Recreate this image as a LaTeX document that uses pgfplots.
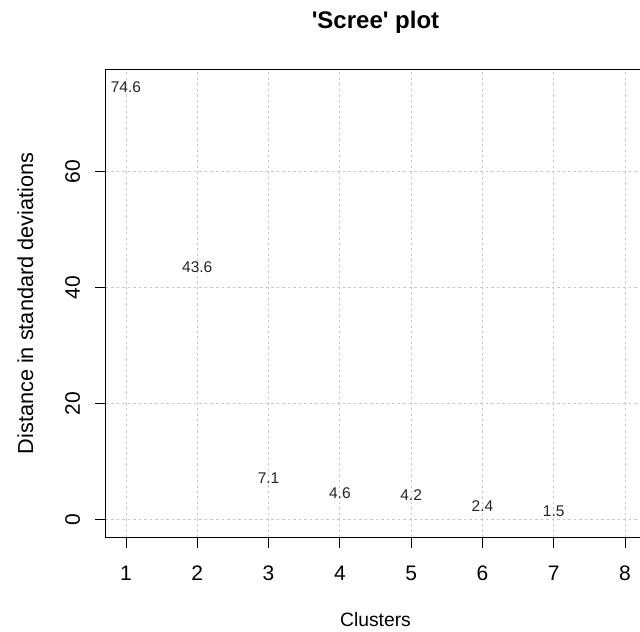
\documentclass[border=0pt]{standalone}
\usepackage{pgfplots}
\pgfplotsset{compat=1.18}
\usepackage{fontspec}
\setmainfont{Liberation Sans}
\begin{document}
\begin{tikzpicture}
\begin{axis}[
  at={(0,0)}, anchor=south west,
  scale only axis,
  width=539bp, height=467bp,
  xmin=0.72, xmax=8.28,
  ymin=-2.98, ymax=77.58,
  xtick={1,2,3,4,5,6,7,8},
  ytick={0,20,40,60},
  tick pos=left,
  tick align=outside,
  major tick length=11bp,
  tick style={black, line width=0.9bp},
  axis line style={black, line width=1bp},
  xmajorgrids, ymajorgrids,
  major grid style={color=black!22, line width=0.9bp, dash pattern=on 2.5bp off 3bp},
  /pgf/number format/assume math mode=true,
  tick label style={font=\fontsize{21bp}{23bp}\selectfont},
  xticklabel style={anchor=base, yshift=-32bp},
  yticklabel style={xshift=-15bp, rotate=90, anchor=base},
  every axis title shift=0pt,
  title={\textbf{\textquotesingle Scree\textquotesingle{} plot}},
  title style={at={(axis description cs:0.5,1.0878)}, anchor=base, font=\fontsize{24bp}{27bp}\selectfont},
  xlabel={Clusters},
  ylabel={Distance in standard deviations},
  xlabel style={at={(axis description cs:0.5,-0.1927)}, anchor=base, font=\fontsize{19.3bp}{21bp}\selectfont},
  ylabel style={at={(axis description cs:-0.1354,0.5)}, rotate=0, anchor=base, font=\fontsize{21.7bp}{23bp}\selectfont},
  clip=false,
]
\addplot[draw=none, mark=none, nodes near coords, point meta=explicit symbolic,
  every node near coord/.style={anchor=center, inner sep=0pt, font=\fontsize{15.5bp}{17bp}\selectfont, text=black!85}]
  table[meta=lab] {
x y lab
1 74.6 74.6
2 43.6 43.6
3 7.1 7.1
4 4.6 4.6
5 4.2 4.2
6 2.4 2.4
7 1.5 1.5
};
\end{axis}
\pgfresetboundingbox
\useasboundingbox (-106bp,-95bp) rectangle (534bp,537bp);
\end{tikzpicture}
\end{document}
